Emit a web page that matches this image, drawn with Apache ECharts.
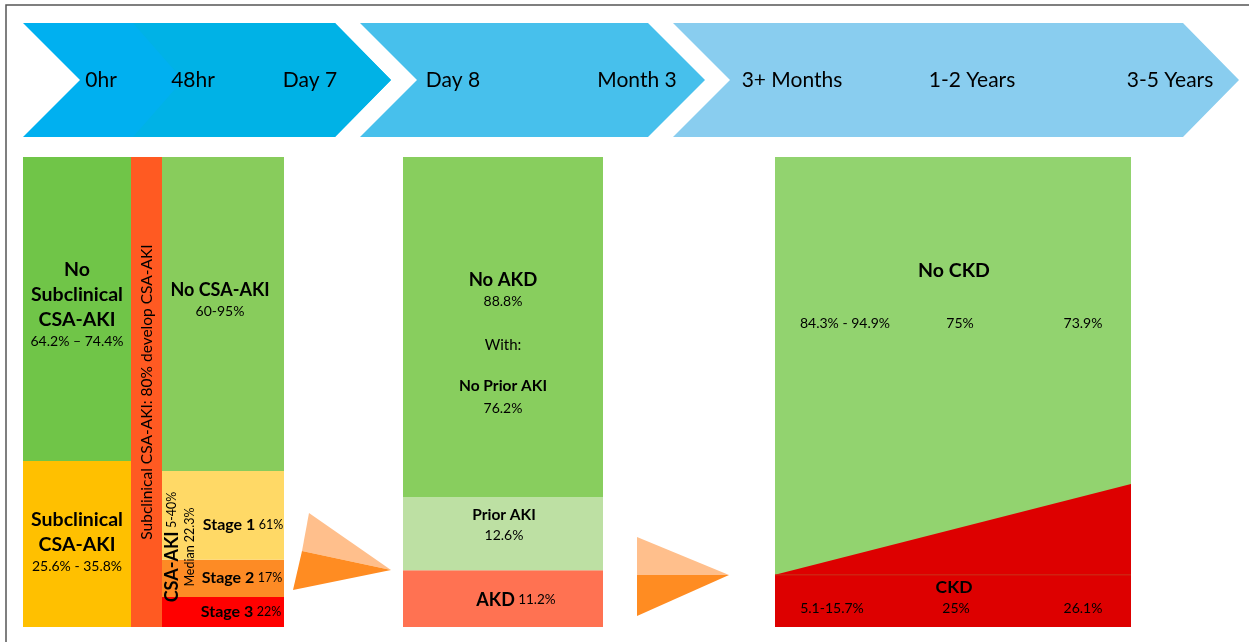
<!DOCTYPE html>
<html><head><meta charset="utf-8">
<script src="https://cdn.jsdelivr.net/npm/echarts@6/dist/echarts.min.js"></script>
<style>html,body{margin:0;padding:0;background:#fff}#c{width:1249px;height:642px}</style>
</head><body><div id="c"></div>
<script>
// ---- data ----
const timeLabels = ['0hr','48hr','Day 7','Day 8','Month 3','3+ Months','1-2 Years','3-5 Years'];
// column 1 (0hr): bottom -> top
const col1Names = ['Subclinical CSA-AKI','No Subclinical CSA-AKI'];
const col1Vals = [35.3, 64.7];
// strip
const stripNames = ['Subclinical CSA-AKI: 80% develop CSA-AKI'];
const stripVals = [100];
// column 2 (48hr - Day 7): bottom -> top
const col2Names = ['Stage 3','Stage 2','Stage 1','No CSA-AKI'];
const col2Vals = [6.4, 7.9, 18.9, 66.8];
// column 3 (Day 8 - Month 3): bottom -> top
const col3Names = ['AKD','Prior AKI','No AKD'];
const col3Vals = [12.1, 15.5, 72.4];
// column 4 (3+ months - 3-5 years)
const col4X = [0, 1];
const ckdBand = [11.1, 11.1];
const ckdTop = [11.1, 30.4];
const noCkd = [100, 100];

const FONT = 'Lato, "Open Sans", sans-serif';
const chart = echarts.init(document.getElementById('c'), null, {renderer:'canvas'});

function catGrid(i){ return {type:'category', data:[''], gridIndex:i, show:false, boundaryGap:true}; }
function valGrid(i){ return {type:'value', min:0, max:100, gridIndex:i, show:false}; }
function stackBars(names, vals, colors, gi, stack){
  return names.map((n,k)=>({type:'bar', name:n, stack:stack, xAxisIndex:gi, yAxisIndex:gi,
    data:[vals[k]], barWidth:'100%', itemStyle:{color:colors[k]}, silent:true, animation:false}));
}

const grids = [
  {left:23, top:157, width:108, height:470},
  {left:131, top:157, width:31, height:470},
  {left:162, top:157, width:122, height:470},
  {left:403, top:157, width:200, height:470},
  {left:775, top:157, width:356, height:470}
];

function area(name, vals, color, lw, lc, z){
  return {type:'line', name:name, xAxisIndex:4, yAxisIndex:4, data:col4X.map((x,i)=>[x,vals[i]]), z:z,
    symbol:'none', lineStyle:{width:lw, color:lc}, areaStyle:color?{color:color, opacity:1}:null, silent:true, animation:false};
}

const series = [].concat(
  stackBars(col1Names, col1Vals, ['#FFC000','#70C548'], 0, 'c1'),
  stackBars(stripNames, stripVals, ['#FF5A22'], 1, 'c1b'),
  stackBars(col2Names, col2Vals, ['#FF0000','#FD8B25','#FFD966','#88CC5C'], 2, 'c2'),
  stackBars(col3Names, col3Vals, ['#FF7252','#BDE0A3','#88CE5E'], 3, 'c3'),
  [
    area('No CKD', noCkd, '#92D36F', 0, '#92D36F', 2),
    area('CKD rise', ckdTop, '#DD0000', 0, '#DD0000', 3),
    area('CKD', ckdBand, null, 1, '#C8341A', 4)
  ]
);

const xAxes = [catGrid(0),catGrid(1),catGrid(2),catGrid(3),
  {type:'value', min:0, max:1, gridIndex:4, show:false}];
const yAxes = [valGrid(0),valGrid(1),valGrid(2),valGrid(3),valGrid(4)];

// ---- decorative graphics ----
function poly(points, color){ return {type:'polygon', shape:{points:points}, style:{fill:color}, silent:true, z:1}; }
function chev(x0, notch, xr, tip, color){
  return poly([[x0,23],[xr,23],[tip,80],[xr,137],[x0,137],[x0+notch,80]], color);
}
function txt(x,y,text,size,bold,extra){
  return Object.assign({type:'text', x:x, y:y, silent:true, z:10, style:{text:text, fill:'#000',
    font:(bold?'bold ':'')+size+'px '+FONT, textAlign:'center', textVerticalAlign:'middle'}}, extra||{});
}
function rich(x,y,text,richDef,extra){
  return Object.assign({type:'text', x:x, y:y, silent:true, z:10, style:{text:text, fill:'#000', rich:richDef,
    textAlign:'center', textVerticalAlign:'middle'}}, extra||{});
}
const R = {
  b18:{fontFamily:FONT, fontWeight:'bold', fontSize:18, fill:'#000'},
  b16:{fontFamily:FONT, fontWeight:'bold', fontSize:16, fill:'#000'},
  n12:{fontFamily:FONT, fontSize:12.5, fill:'#000'},
  n13:{fontFamily:FONT, fontSize:13.5, fill:'#000'}
};

const graphics = [
  {type:'rect', shape:{x:6, y:5, width:1300, height:700}, style:{fill:'none', stroke:'#555', lineWidth:1.5}, silent:true, z:0},
  chev(23, 57, 335, 391, '#00B0F0'),
  chev(133, 50, 335, 391, '#00B2E6'),
  chev(360, 57, 648, 705, '#47C0EC'),
  chev(673, 57, 1183, 1239, '#89CDEF'),
  // arrows between columns
  poly([[309,513],[391,570],[302,551]], '#FFBF8C'),
  poly([[302,551],[391,570],[293,590]], '#FF8C22'),
  poly([[637,537],[729,575],[637,575]], '#FFBF8C'),
  poly([[637,575],[729,575],[637,616]], '#FF8C22')
];
const tx = [101,193,310,453,637,792,972,1170];
timeLabels.forEach((t,i)=>graphics.push(txt(tx[i],80,t,21,false)));

// column 1 labels
graphics.push(txt(77,270,'No',19.5,true), txt(77,295,'Subclinical',19.5,true), txt(77,320,'CSA-AKI',19.5,true),
  txt(77,341,'64.2% – 74.4%',14,false));
graphics.push(txt(77,520,'Subclinical',19.5,true), txt(77,545,'CSA-AKI',19.5,true), txt(77,566,'25.6% - 35.8%',14,false));
// strip
graphics.push(txt(147,392,stripNames[0],15.5,false,{rotation:Math.PI/2}));
graphics.push(rich(172,547,'{a|CSA-AKI} {s|5-40%}',{a:R.b18,s:R.n12},{rotation:Math.PI/2}));
graphics.push(txt(190,547,'Median 22.3%',12.5,false,{rotation:Math.PI/2}));
// column 2
graphics.push(txt(220,290,'No CSA-AKI',18,true), txt(220,311,'60-95%',14,false));
graphics.push(rich(243,525,'{a|Stage 1} {s|61%}',{a:R.b16,s:R.n12}));
graphics.push(rich(242,578,'{a|Stage 2} {s|17%}',{a:R.b16,s:R.n12}));
graphics.push(rich(241,612,'{a|Stage 3} {s|22%}',{a:R.b16,s:R.n12}));
// column 3
graphics.push(txt(503,280,'No AKD',18.5,true), txt(503,301,'88.8%',14,false), txt(503,345,'With:',15,false),
  txt(503,386,'No Prior AKI',15.5,true), txt(503,408,'76.2%',14,false));
graphics.push(txt(504,515,'Prior AKI',15.5,true), txt(504,535,'12.6%',14,false));
graphics.push(rich(516,600,'{a|AKD} {s|11.2%}',{a:R.b18,s:R.n13}));
// column 4
graphics.push(txt(954,271,'No CKD',19.5,true), txt(845,323,'84.3% - 94.9%',14,false), txt(960,323,'75%',14,false),
  txt(1083,323,'73.9%',14,false));
graphics.push(txt(954,587,'CKD',17.5,true), txt(832,608,'5.1-15.7%',14,false), txt(956,608,'25%',14,false),
  txt(1083,608,'26.1%',14,false));

chart.setOption({
  animation:false,
  grid:grids,
  xAxis:xAxes,
  yAxis:yAxes,
  series:series,
  graphic:{elements:graphics}
});
</script></body></html>
